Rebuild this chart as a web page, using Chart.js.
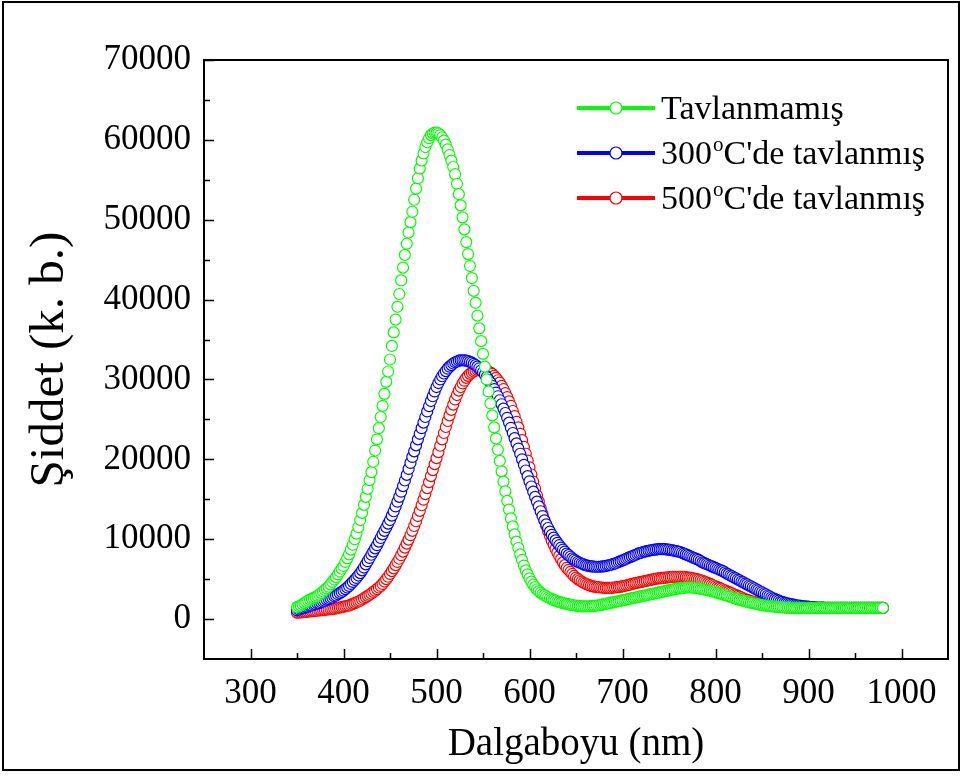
<!DOCTYPE html>
<html>
<head>
<meta charset="utf-8">
<script src="https://cdn.jsdelivr.net/npm/chart.js@4"></script>
<style>
  html, body { margin: 0; padding: 0; background: #fff; }
  canvas { display: block; }
</style>
</head>
<body>
<canvas id="spectrum-canvas" width="964" height="776"></canvas>
<script>
// wavelength grid, 2 nm steps from 350 to 980 nm
const wavelengths = [];
for (let w = 350; w <= 980; w += 2) {
    wavelengths.push(w);
}

const tavlanmamis = [
    1500,1600,1700,1850,2000,2150,2300,2450,2550,2650,
    2750,2900,3050,3250,3450,3650,3850,4050,4350,4650,
    4950,5250,5600,5950,6300,6650,7150,7600,8100,8700,
    9300,10000,10700,11500,12400,13300,14300,15300,16300,17400,
    18400,19700,21100,22500,23900,25300,26700,28200,29700,31000,
    32500,34200,35900,37500,39100,40700,42400,44000,45600,47000,
    48400,49700,51000,52500,53900,55200,56400,57400,58300,59100,
    59700,60200,60600,60800,60900,60900,60800,60600,60300,59900,
    59400,58800,58100,57400,56600,55700,54500,53200,51800,50300,
    48800,47200,45700,44200,42700,41100,39600,38000,36400,34800,
    33200,31600,30000,28500,27000,25500,24000,22600,21200,19800,
    18500,17200,16000,14800,13700,12600,11600,10600,9700,8900,
    8100,7400,6700,6100,5600,5100,4700,4300,4000,3700,
    3500,3300,3100,3000,2850,2700,2600,2500,2400,2300,
    2200,2150,2050,2000,1950,1900,1850,1800,1750,1700,
    1700,1650,1650,1600,1600,1600,1600,1600,1600,1650,
    1650,1700,1700,1750,1800,1850,1900,1950,2000,2050,
    2100,2150,2200,2250,2300,2350,2400,2450,2500,2550,
    2600,2650,2700,2750,2800,2850,2900,2950,3000,3050,
    3100,3150,3200,3250,3300,3350,3400,3450,3500,3550,
    3600,3650,3700,3750,3800,3850,3850,3900,3900,3950,
    3950,3950,3950,3950,3900,3900,3850,3800,3750,3700,
    3650,3600,3550,3500,3450,3350,3300,3250,3150,3100,
    3000,2950,2850,2800,2700,2650,2550,2500,2400,2350,
    2300,2250,2150,2100,2050,2000,1950,1900,1850,1800,
    1750,1700,1700,1650,1650,1600,1600,1550,1550,1500,
    1500,1500,1450,1450,1450,1450,1400,1400,1400,1400,
    1400,1400,1400,1400,1400,1400,1400,1400,1400,1400,
    1400,1400,1400,1400,1400,1400,1400,1400,1400,1400,
    1400,1400,1400,1400,1400,1400,1400,1400,1400,1400,
    1400,1400,1400,1400,1400,1400,1400,1400,1400,1400,
    1400,1400,1400,1400,1400,1400
];

const tavlanmis300 = [
    1100,1200,1300,1350,1400,1500,1550,1650,1700,1800,
    1850,1950,2000,2100,2200,2300,2400,2500,2600,2700,
    2850,2950,3100,3250,3400,3550,3750,3950,4150,4400,
    4650,4900,5150,5450,5750,6100,6450,6850,7250,7650,
    8050,8450,8850,9250,9700,10150,10600,11050,11500,11950,
    12400,12950,13500,14100,14700,15300,15950,16650,17350,18050,
    18800,19550,20300,21000,21750,22500,23200,23900,24600,25300,
    26000,26650,27300,27900,28500,29050,29550,30000,30400,30750,
    31050,31350,31600,31800,32000,32150,32250,32350,32400,32400,
    32400,32350,32300,32200,32100,31950,31800,31600,31400,31150,
    30900,30600,30300,29950,29600,29200,28800,28350,27900,27400,
    26900,26350,25800,25200,24600,23950,23300,22650,22000,21350,
    20700,20000,19300,18600,17900,17250,16600,15950,15300,14700,
    14100,13500,12900,12350,11850,11400,10950,10550,10200,9850,
    9550,9250,8950,8700,8450,8200,8000,7800,7600,7450,
    7300,7150,7050,6950,6850,6750,6700,6650,6600,6600,
    6550,6550,6550,6550,6600,6600,6650,6700,6750,6800,
    6900,6950,7050,7150,7250,7350,7450,7550,7650,7750,
    7850,7950,8050,8150,8250,8300,8400,8450,8500,8550,
    8600,8650,8700,8700,8750,8750,8750,8750,8750,8700,
    8700,8650,8600,8550,8500,8450,8400,8300,8200,8100,
    8000,7900,7800,7700,7600,7500,7400,7250,7100,7000,
    6900,6800,6700,6600,6500,6400,6300,6200,6100,6000,
    5850,5700,5600,5450,5350,5200,5100,4950,4850,4700,
    4600,4450,4350,4200,4100,3950,3850,3700,3600,3450,
    3350,3200,3100,2950,2850,2700,2600,2500,2400,2300,
    2200,2150,2050,2000,1950,1900,1850,1800,1750,1700,
    1700,1650,1600,1600,1550,1550,1500,1500,1500,1450,
    1450,1450,1450,1450,1400,1400,1400,1400,1400,1400,
    1400,1400,1400,1400,1400,1400,1400,1400,1400,1400,
    1400,1400,1400,1400,1400,1400,1400,1400,1400,1400,
    1400,1400,1400,1400,1400,1400
];

const tavlanmis500 = [
    800,800,850,850,900,900,950,950,1000,1000,
    1050,1050,1100,1100,1150,1150,1200,1200,1250,1250,
    1300,1350,1400,1450,1500,1550,1600,1650,1700,1800,
    1900,2000,2100,2200,2300,2450,2600,2750,2900,3050,
    3200,3400,3550,3750,3950,4150,4400,4700,5000,5300,
    5650,6000,6350,6750,7150,7550,8000,8450,8950,9450,
    9950,10500,11050,11650,12250,12900,13550,14250,14950,15650,
    16400,17150,17900,18650,19400,20150,20900,21700,22500,23300,
    24050,24800,25500,26200,26850,27500,28050,28600,29050,29500,
    29850,30200,30450,30700,30850,31000,31100,31200,31250,31250,
    31250,31200,31100,31000,30850,30700,30450,30200,29900,29600,
    29200,28800,28300,27800,27250,26700,26050,25400,24700,24000,
    23200,22400,21550,20700,19850,19000,18100,17200,16350,15500,
    14700,13900,13150,12400,11700,11000,10400,9800,9300,8800,
    8350,7900,7500,7100,6750,6400,6150,5900,5650,5400,
    5200,5000,4850,4700,4550,4450,4350,4250,4150,4100,
    4050,4000,4000,3950,3950,3900,3900,3900,3900,3900,
    3950,3950,4000,4000,4050,4100,4150,4200,4250,4300,
    4400,4450,4500,4550,4600,4650,4700,4750,4800,4850,
    4900,4950,5000,5050,5100,5100,5150,5150,5200,5200,
    5250,5250,5300,5300,5300,5300,5300,5300,5300,5250,
    5200,5200,5150,5100,5050,5000,4950,4850,4800,4700,
    4600,4500,4400,4300,4200,4100,4000,3900,3800,3700,
    3600,3500,3400,3300,3200,3100,3000,2900,2800,2700,
    2600,2500,2400,2350,2250,2200,2100,2050,2000,1950,
    1900,1850,1800,1750,1700,1650,1650,1600,1600,1550,
    1550,1500,1500,1450,1450,1450,1400,1400,1400,1400,
    1400,1400,1400,1400,1400,1400,1400,1400,1400,1400,
    1400,1400,1400,1400,1400,1400,1400,1400,1400,1400,
    1400,1400,1400,1400,1400,1400,1400,1400,1400,1400,
    1400,1400,1400,1400,1400,1400,1400,1400,1400,1400,
    1400,1400,1400,1400,1400,1400
];

const xTickValues = [300, 400, 500, 600, 700, 800, 900, 1000];
const xMinorTicks = [350, 450, 550, 650, 750, 850, 950];
const yTickValues = [0, 10000, 20000, 30000, 40000, 50000, 60000, 70000];
const yMinorTicks = [5000, 15000, 25000, 35000, 45000, 55000, 65000];

const seriesNames = ["Tavlanmamış", "300", "500"];
const seriesColors = ["#00ff00", "#0000ff", "#ff0000"];

const FONT = "'Liberation Serif', 'Times New Roman', serif";

function toPoints(values) {
    return values.map((v, i) => ({x: wavelengths[i], y: v}));
}

function makeDataset(label, values, color) {
    return {
        label: label,
        data: toPoints(values),
        borderColor: color,
        backgroundColor: "#ffffff",
        pointRadius: 5.5,
        pointBorderWidth: 1.2,
        pointBackgroundColor: "#ffffff",
        pointBorderColor: color,
        showLine: false
    };
}

// frame, inward ticks, legend and outer border
const framePlugin = {
    id: "frame",
    afterDraw(chart) {
        const ctx = chart.ctx;
        const area = chart.chartArea;
        const xs = chart.scales.x;
        const ys = chart.scales.y;
        ctx.save();
        ctx.strokeStyle = "#000";
        ctx.lineWidth = 2;
        ctx.strokeRect(area.left, area.top, area.right - area.left, area.bottom - area.top);

        ctx.beginPath();
        xTickValues.forEach(v => {
            const px = Math.round(xs.getPixelForValue(v)) + 0.5;
            ctx.moveTo(px, area.bottom); ctx.lineTo(px, area.bottom - 10);
        });
        xMinorTicks.forEach(v => {
            const px = Math.round(xs.getPixelForValue(v)) + 0.5;
            ctx.moveTo(px, area.bottom); ctx.lineTo(px, area.bottom - 6);
        });
        yTickValues.forEach(v => {
            const py = Math.round(ys.getPixelForValue(v)) + 0.5;
            ctx.moveTo(area.left, py); ctx.lineTo(area.left + 10, py);
        });
        yMinorTicks.forEach(v => {
            const py = Math.round(ys.getPixelForValue(v)) + 0.5;
            ctx.moveTo(area.left, py); ctx.lineTo(area.left + 6, py);
        });
        ctx.lineWidth = 1.5;
        ctx.stroke();

        // outer figure border
        ctx.lineWidth = 2;
        ctx.strokeRect(3, 2, 956, 768);

        // legend
        const rows = [108, 153, 198];
        ctx.textAlign = "left";
        ctx.textBaseline = "alphabetic";
        rows.forEach((y, i) => {
            const c = seriesColors[i];
            ctx.strokeStyle = c;
            ctx.lineWidth = 4;
            ctx.beginPath();
            ctx.moveTo(577, y); ctx.lineTo(655, y);
            ctx.stroke();
            ctx.beginPath();
            ctx.arc(616, y, 6, 0, Math.PI * 2);
            ctx.fillStyle = "#fff";
            ctx.fill();
            ctx.lineWidth = 1.2;
            ctx.stroke();

            ctx.fillStyle = "#000";
            let x = 661;
            const base = y + 11;
            ctx.font = "34px " + FONT;
            if (i === 0) {
                ctx.fillText(seriesNames[0], x, base);
            } else {
                ctx.fillText(seriesNames[i], x, base);
                x += ctx.measureText(seriesNames[i]).width;
                ctx.font = "21px " + FONT;
                ctx.fillText("o", x + 1, base - 13);
                x += ctx.measureText("o").width + 1;
                ctx.font = "34px " + FONT;
                ctx.fillText("C'de tavlanmış", x, base);
            }
        });
        ctx.restore();
    }
};

const spectrum_config = {
    type: "scatter",
    data: {
        datasets: [
            makeDataset("Tavlanmamış", tavlanmamis, seriesColors[0]),
            makeDataset("300°C'de tavlanmış", tavlanmis300, seriesColors[1]),
            makeDataset("500°C'de tavlanmış", tavlanmis500, seriesColors[2])
        ]
    },
    options: {
        responsive: false,
        animation: false,
        layout: {
            padding: {top: 60, right: 16, bottom: 0, left: 0}
        },
        plugins: {
            legend: {display: false},
            tooltip: {enabled: false}
        },
        scales: {
            x: {
                type: "linear",
                min: 250,
                max: 1050,
                grid: {display: false, drawTicks: false},
                border: {display: false},
                afterBuildTicks: scale => {
                    scale.ticks = xTickValues.map(v => ({value: v}));
                },
                afterFit: scale => {
                    scale.height = 117;
                },
                ticks: {
                    color: "#000",
                    font: {family: FONT, size: 35},
                    padding: 14,
                    maxRotation: 0,
                    callback: v => String(v)
                },
                title: {
                    display: true,
                    text: "Dalgaboyu (nm)",
                    color: "#000",
                    font: {family: FONT, size: 39},
                    padding: {top: 0, bottom: 8}
                }
            },
            y: {
                min: -5000,
                max: 70000,
                grid: {display: false, drawTicks: false},
                border: {display: false},
                afterBuildTicks: scale => {
                    scale.ticks = yTickValues.map(v => ({value: v}));
                },
                afterFit: scale => {
                    scale.width = 204;
                },
                ticks: {
                    color: "#000",
                    font: {family: FONT, size: 35},
                    padding: 13,
                    callback: v => String(v)
                },
                title: {
                    display: true,
                    text: "Şiddet (k. b.)",
                    color: "#000",
                    font: {family: FONT, size: 49},
                    padding: {top: 21, bottom: 0}
                }
            }
        }
    },
    plugins: [framePlugin]
};

const spectrum_ctx = document.getElementById("spectrum-canvas");
let spectrum_chart = new Chart(spectrum_ctx, spectrum_config);
</script>
</body>
</html>
